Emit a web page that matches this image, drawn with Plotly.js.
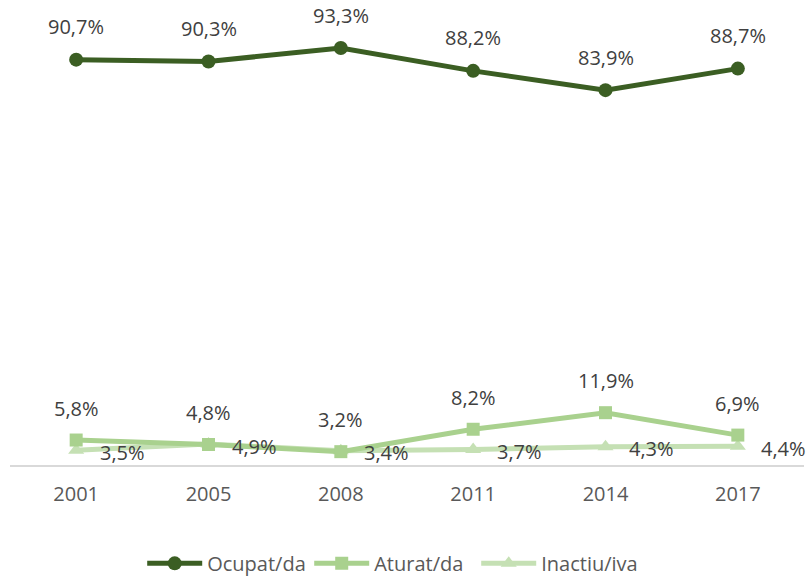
<!DOCTYPE html>
<html>
<head>
<meta charset="utf-8">
<script src="https://cdn.plot.ly/plotly-3.0.1.min.js"></script>
<style>html,body{margin:0;padding:0;background:#fff;}#chart{width:810px;height:576px;}</style>
</head>
<body>
<div id="chart"></div>
<script>
const years = ['2001', '2005', '2008', '2011', '2014', '2017'];
const ocupat = [90.7, 90.3, 93.3, 88.2, 83.9, 88.7];
const aturat = [5.8, 4.8, 3.2, 8.2, 11.9, 6.9];
const inactiu = [3.5, 4.9, 3.4, 3.7, 4.3, 4.4];
const seriesNames = ['Ocupat/da', 'Aturat/da', 'Inactiu/iva'];

const idx = years.map((_, i) => i);
const cOcu = '#3b5e23', cAtu = '#a9d18e', cIna = '#c5e0b4';
const txtCol = '#404040';
const fontFam = '"Open Sans", "Noto Sans", sans-serif';
const fs = 20;

const traces = [
  {x: idx, y: inactiu, name: seriesNames[2], type: 'scatter', mode: 'lines+markers',
   line: {color: cIna, width: 5}, marker: {symbol: 'triangle-up', size: 14, color: cIna}},
  {x: idx, y: aturat, name: seriesNames[1], type: 'scatter', mode: 'lines+markers',
   line: {color: cAtu, width: 5}, marker: {symbol: 'square', size: 13, color: cAtu}},
  {x: idx, y: ocupat, name: seriesNames[0], type: 'scatter', mode: 'lines+markers',
   line: {color: cOcu, width: 5}, marker: {symbol: 'circle', size: 14, color: cOcu}}
];

function fmt(v) { return v.toFixed(1).replace('.', ',') + '%'; }
const annotations = [];
idx.forEach(i => {
  annotations.push({x: i, y: ocupat[i], text: fmt(ocupat[i]), showarrow: false, yshift: 33,
    font: {family: fontFam, size: fs, color: txtCol}});
  annotations.push({x: i, y: aturat[i], text: fmt(aturat[i]), showarrow: false, yshift: 32,
    font: {family: fontFam, size: fs, color: txtCol}});
  annotations.push({x: i, y: inactiu[i], text: fmt(inactiu[i]), showarrow: false, xshift: 46, yshift: -2,
    font: {family: fontFam, size: fs, color: txtCol}});
});

const layout = {
  width: 810, height: 576,
  margin: {l: 10, r: 6, t: 18, b: 110, autoexpand: false},
  paper_bgcolor: '#fff', plot_bgcolor: '#fff',
  font: {family: fontFam, size: fs, color: '#595959'},
  xaxis: {type: 'linear', range: [-0.5, 5.5], tickvals: idx, ticktext: years,
    showgrid: false, zeroline: false, showline: false, ticklabelstandoff: 14,
    ticks: '', tickfont: {size: fs, color: '#595959'}, fixedrange: true},
  yaxis: {range: [0, 100], showgrid: false, zeroline: true, zerolinecolor: '#d9d9d9', zerolinewidth: 2,
    showticklabels: false, showline: false, ticks: '', fixedrange: true},
  showlegend: true,
  legend: {orientation: 'h', x: 0.482, xanchor: 'center', yref: 'container', y: 0.022, yanchor: 'middle',
    traceorder: 'reversed', font: {size: fs, color: '#595959'}, itemwidth: 55,
    entrywidth: 97, entrywidthmode: 'pixels'},
  annotations: annotations
};

Plotly.newPlot('chart', traces, layout, {displayModeBar: false, staticPlot: true});
</script>
</body>
</html>
